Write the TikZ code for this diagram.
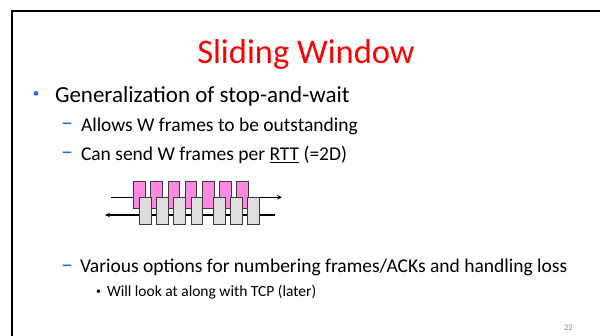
\documentclass[tikz,border=0pt]{standalone}
\usepackage{fontspec}
\setmainfont{Carlito}
\usetikzlibrary{arrows.meta}
\definecolor{titlered}{HTML}{FF0000}
\definecolor{bulletblue}{HTML}{1F6FD8}
\definecolor{pinkbox}{HTML}{FF88E0}
\definecolor{graybox}{HTML}{DDDDDD}
\definecolor{boxline}{HTML}{3A3A3A}
\definecolor{pagenum}{HTML}{8C8C8C}
\tikzset{
  txt/.style={anchor=base west, inner sep=0pt, outer sep=0pt},
  lvlone/.style={txt, font=\fontsize{23}{27}\selectfont},
  lvltwo/.style={txt, font=\fontsize{19.5}{23}\selectfont},
  lvlthree/.style={txt, font=\fontsize{15.5}{19}\selectfont},
  bulletmark/.style={anchor=center, inner sep=0pt, outer sep=0pt},
  dashmark/.style={anchor=center, inner sep=0pt, outer sep=0pt, text=bulletblue, font=\fontsize{24}{28}\selectfont},
  pinkframe/.style={draw=boxline, line width=0.6pt, fill=pinkbox, minimum width=11.5pt, minimum height=27pt, inner sep=0pt},
  grayframe/.style={draw=boxline, line width=0.6pt, fill=graybox, minimum width=11.5pt, minimum height=27.5pt, inner sep=0pt},
  flow/.style={line width=1.2pt, -{Stealth[length=5pt,width=4.5pt]}}
}
\begin{document}
\begin{tikzpicture}[x=1pt,y=-1pt]
\useasboundingbox (0,0) rectangle (600,336);
% slide frame
\coordinate (fa) at (12,336);
\coordinate (fb) at (12,11);
\coordinate (fc) at (600,11);
\draw[line width=2pt] (fa) -- (fb) -- (fc);
% title
\node[anchor=base, inner sep=0pt, font=\fontsize{34.5}{40}\selectfont, text=titlered] (title) at (306,64) {Sliding Window};
% bullets
\node[bulletmark, font=\fontsize{13}{15}\selectfont, text=bulletblue] (b1) at (36,95) {•};
\node[lvlone] (t1) at (55,103) {Generalization of stop-and-wait};
\node[dashmark] (d1) at (67,126.7) {–};
\node[lvltwo] (t2) at (81,131.7) {Allows W frames to be outstanding};
\node[dashmark] (d2) at (67,156) {–};
\node[lvltwo] (t3) at (81,161) {Can send W frames per \underline{RTT} (=2D)};
\node[dashmark] (d3) at (67,268.5) {–};
\node[lvltwo] (t4) at (80,273) {Various options for numbering frames/ACKs and handling loss};
\node[bulletmark, font=\fontsize{10}{12}\selectfont] (b2) at (98.5,292) {•};
\node[lvlthree] (t5) at (107,297) {Will look at along with TCP (later)};
\node[anchor=base east, inner sep=0pt, font=\fontsize{8.5}{10}\selectfont, text=pagenum] (pg) at (573,331) {22};
% diagram arrows
\coordinate (ua) at (111,197.3);
\coordinate (ub) at (282,197.3);
\coordinate (la) at (275,215);
\coordinate (lb) at (105,215);
\draw[flow] (ua) -- (ub);
\draw[flow] (la) -- (lb);
% pink frames
\foreach \i/\x in {1/139.05,2/156.4,3/173.7,4/191.0,5/208.1,6/225.4,7/242.4}
  \node[pinkframe] (p\i) at (\x,194.5) {};
% gray frames
\foreach \i/\x in {1/145.05,2/162.45,3/179.45,4/196.75,5/219.05,6/236.45,7/253.45}
  \node[grayframe] (g\i) at (\x,210.9) {};
\end{tikzpicture}
\end{document}
